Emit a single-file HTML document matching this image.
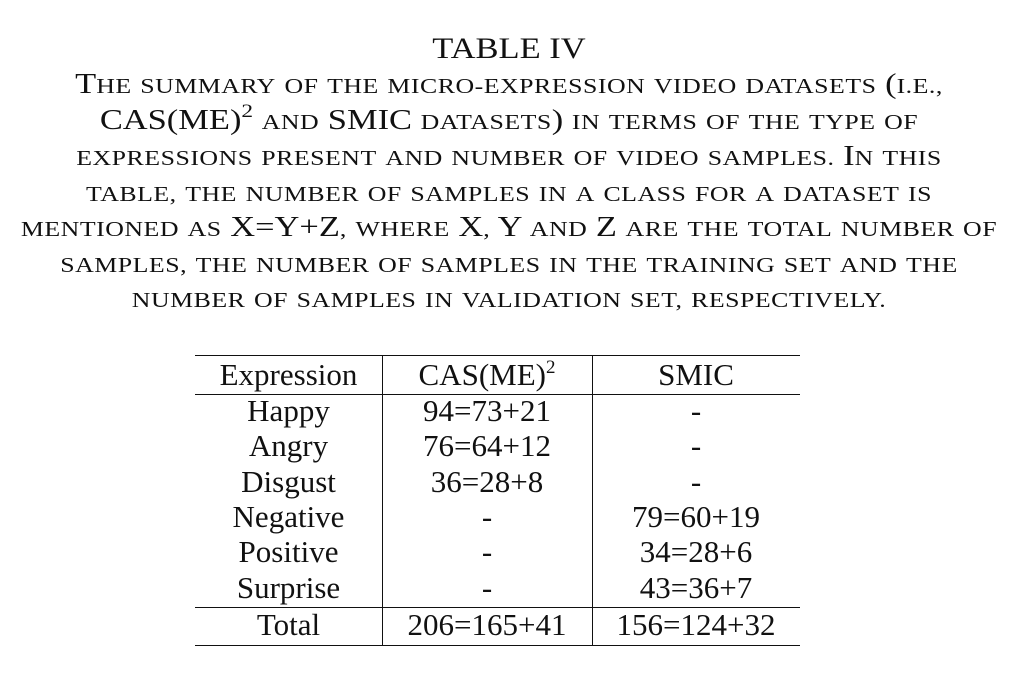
<!DOCTYPE html>
<html><head><meta charset="utf-8"><style>
body{margin:0;width:1018px;height:676px;background:#fff;font-family:"Liberation Serif",serif;color:#111;overflow:hidden;position:relative}
.t{position:absolute;left:0;width:1018px;text-align:center;font-size:28px;white-space:nowrap;line-height:32px}
#cap .t{transform:scaleX(1.23);transform-origin:509px 0}
.t .s{font-size:21px;letter-spacing:0.4px}
.h{position:absolute;height:0;border-top:1.5px solid #111}
.v{position:absolute;width:0;border-left:1.5px solid #111}
.c{position:absolute;text-align:center;font-size:31px;white-space:nowrap;line-height:34px}
sup{font-size:19px;vertical-align:12px;line-height:0}
</style></head><body>
<div class="t" style="top:33px;font-size:30px;transform:scaleX(1.15);transform-origin:509px 0">TABLE IV</div>
<div id="cap">
<div class="t" style="top:69px">The summary of the micro-expression video datasets (i.e.,</div>
<div class="t" style="top:105px">CAS(ME)^ and SMIC datasets) in terms of the type of</div>
<div class="t" style="top:141px">expressions present and number of video samples. In this</div>
<div class="t" style="top:177px">table, the number of samples in a class for a dataset is</div>
<div class="t" style="top:212px">mentioned as X=Y+Z, where X, Y and Z are the total number of</div>
<div class="t" style="top:248px">samples, the number of samples in the training set and the</div>
<div class="t" style="top:283px">number of samples in validation set, respectively.</div>
</div>
<div>
<div class="h" style="left:195px;width:605px;top:355px"></div>
<div class="h" style="left:195px;width:605px;top:394px"></div>
<div class="h" style="left:195px;width:605px;top:607px"></div>
<div class="h" style="left:195px;width:605px;top:645px"></div>
<div class="v" style="left:382px;top:355px;height:290px"></div>
<div class="v" style="left:592px;top:355px;height:290px"></div>
<div id="cells"></div>
</div>
<script>
document.querySelectorAll('#cap .t').forEach(el=>{
 const txt=el.textContent;let h='';
 for(const ch of txt){
  if(ch==='^'){h+='<sup>2</sup>';continue;}
  if(/[a-z.,\-]/.test(ch)) h+='<span class="s">'+ch.toUpperCase()+'</span>';
  else h+=ch;
 }
 el.innerHTML=h;
});
const rowsLabel=["Expression","Happy","Angry","Disgust","Negative","Positive","Surprise","Total"];
const casVals=["CAS(ME)<sup>2</sup>","94=73+21","76=64+12","36=28+8","-","-","-","206=165+41"];
const smicVals=["SMIC","-","-","-","79=60+19","34=28+6","43=36+7","156=124+32"];
const tops=[358,394,429,465,500,535,571,608];
const cols=[[195,187],[382,210],[592,208]];
const c=document.getElementById('cells');
rowsLabel.forEach((r,i)=>{
 [r,casVals[i],smicVals[i]].forEach((v,j)=>{
  const d=document.createElement('div');
  d.className='c';
  
  
  d.style.left=cols[j][0]+'px';d.style.width=cols[j][1]+'px';d.style.top=tops[i]+'px';
  d.innerHTML=v;c.appendChild(d);
 });
});
</script>
</body></html>
